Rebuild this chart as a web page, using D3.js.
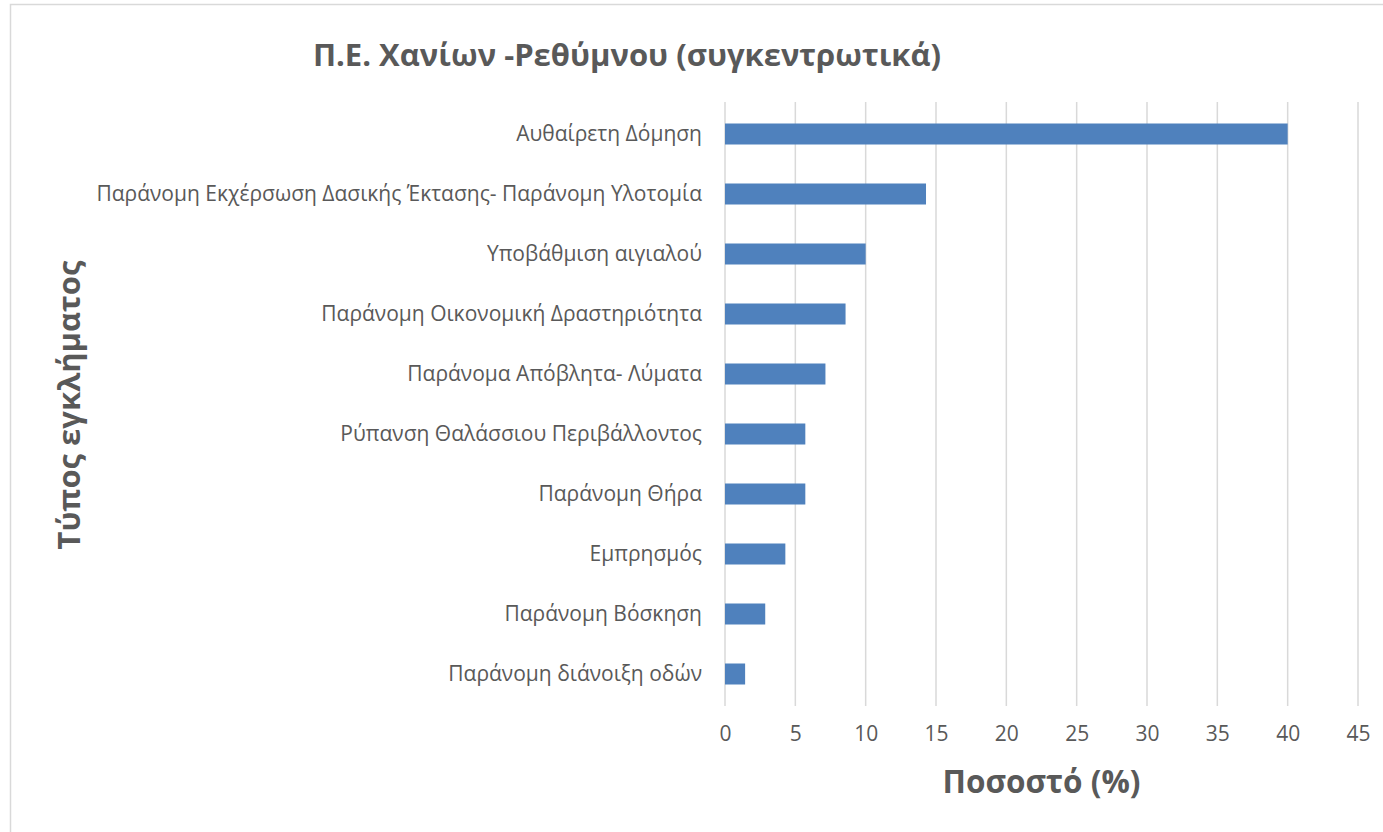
<!DOCTYPE html>
<html>
<head>
<meta charset="utf-8">
<script src="https://cdn.jsdelivr.net/npm/d3@7"></script>
<style>
  html, body { margin: 0; padding: 0; background: #fff; }
  svg { display: block; }
  text { font-family: "Open Sans", "Noto Sans", sans-serif; }
</style>
</head>
<body>
<svg id="chart" width="1383" height="832"></svg>
<script>
const title = "Π.Ε. Χανίων -Ρεθύμνου (συγκεντρωτικά)";
const xTitle = "Ποσοστό (%)";
const yTitle = "Τύπος εγκλήματος";
const categories = [
  "Αυθαίρετη Δόμηση",
  "Παράνομη Εκχέρσωση Δασικής Έκτασης- Παράνομη Υλοτομία",
  "Υποβάθμιση αιγιαλού",
  "Παράνομη Οικονομική Δραστηριότητα",
  "Παράνομα Απόβλητα- Λύματα",
  "Ρύπανση Θαλάσσιου Περιβάλλοντος",
  "Παράνομη Θήρα",
  "Εμπρησμός",
  "Παράνομη Βόσκηση",
  "Παράνομη διάνοιξη οδών"
];
const values = [40.00, 14.29, 10.00, 8.57, 7.14, 5.71, 5.71, 4.29, 2.86, 1.43];
const xTicks = [0, 5, 10, 15, 20, 25, 30, 35, 40, 45];

const svg = d3.select("#chart");
const plot = { left: 725, right: 1358, top: 104, bottom: 704 };

// chart border
svg.append("rect").attr("x", 10.5).attr("y", 4.5).attr("width", 1400).attr("height", 900)
  .attr("fill", "none").attr("stroke", "#d9d9d9").attr("stroke-width", 1.5);

const x = d3.scaleLinear().domain([0, 45]).range([plot.left, plot.right]);
const y = d3.scaleBand().domain(categories).range([plot.top, plot.bottom]).paddingInner(0.65).paddingOuter(0.325);

// gridlines
svg.append("g").selectAll("line").data(xTicks).join("line")
  .attr("x1", d => x(d)).attr("x2", d => x(d))
  .attr("y1", plot.top - 2).attr("y2", plot.bottom + 2)
  .attr("stroke", "#d9d9d9").attr("stroke-width", 1.5);

// bars
svg.append("g").selectAll("rect").data(values).join("rect")
  .attr("x", x(0))
  .attr("y", (d, i) => y(categories[i]))
  .attr("width", d => x(d) - x(0))
  .attr("height", y.bandwidth())
  .attr("fill", "#4f81bd");

// y axis labels
const yAxis = d3.axisLeft(y).tickSize(0).tickPadding(23);
const gy = svg.append("g").attr("transform", `translate(${plot.left},0)`).call(yAxis);
gy.select(".domain").remove();
gy.selectAll("text").attr("font-size", 21).attr("fill", "#595959")
  .style("font-family", '"Open Sans", sans-serif');

// x axis
const xAxis = d3.axisBottom(x).tickValues(xTicks).tickSize(0).tickPadding(22).tickFormat(d3.format("d"));
const gx = svg.append("g").attr("transform", `translate(0,${plot.bottom})`).call(xAxis);
gx.select(".domain").remove();
gx.selectAll("text").attr("font-size", 21).attr("fill", "#595959")
  .style("font-family", '"Open Sans", sans-serif');

// titles
svg.append("text").attr("x", 627).attr("y", 66).attr("text-anchor", "middle")
  .attr("font-size", 31).attr("font-weight", "bold").attr("fill", "#595959").text(title);
svg.append("text").attr("x", (plot.left + plot.right) / 2).attr("y", 793).attr("text-anchor", "middle")
  .attr("font-size", 31.5).attr("font-weight", "bold").attr("fill", "#595959").text(xTitle);
svg.append("text").attr("transform", `translate(80,${(plot.top + plot.bottom) / 2 + 1}) rotate(-90)`)
  .attr("text-anchor", "middle")
  .attr("font-size", 31).attr("font-weight", "bold").attr("fill", "#595959").text(yTitle);
</script>
</body>
</html>
